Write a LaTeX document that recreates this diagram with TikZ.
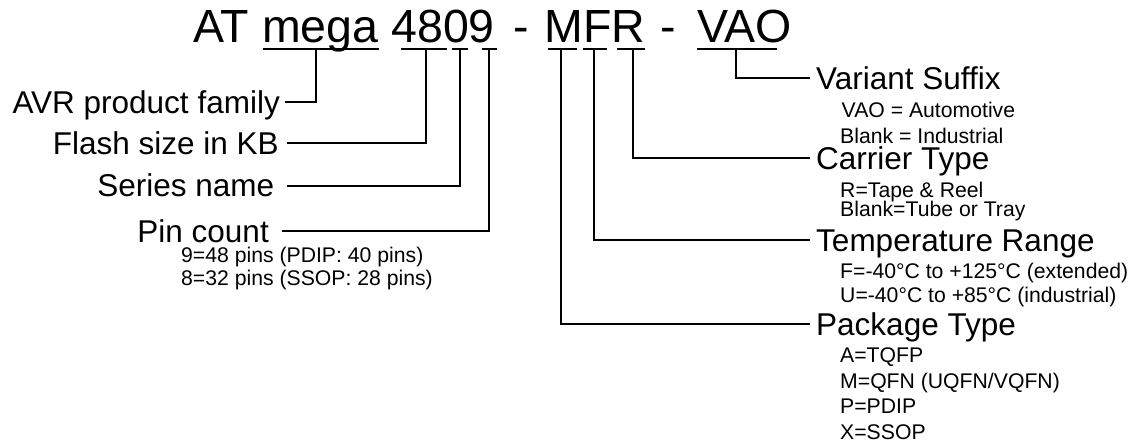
\documentclass[tikz,border=0pt]{standalone}
\usepackage{fontspec}
\setmainfont{Liberation Sans}
\begin{document}
\begin{tikzpicture}[x=1pt,y=-1pt,
  titletxt/.style={font=\fontsize{46.5}{50}\selectfont, inner sep=0pt, anchor=base west},
  lbl/.style={font=\fontsize{31.5}{36}\selectfont, inner ysep=0pt, text height=22.5pt, text depth=0pt},
  subtxt/.style={font=\fontsize{21.2}{24}\selectfont, inner sep=0pt, anchor=base west},
  conn/.style={line width=2pt, line join=miter},
  uline/.style={line width=2pt}]
\useasboundingbox (0,0) rectangle (1137,444);

% title
\node[titletxt] (t1) at (193,43) {AT mega 4809};
\node[titletxt] (h1) at (513,43) {-};
\node[titletxt] (t2) at (544.5,43) {MFR};
\node[titletxt] (h2) at (660,43) {-};
\node[titletxt] (t3) at (697,43) {VAO};

% underlines
\draw[uline] (263,49) -- (379,49);
\draw[uline] (401,49) -- (447,49);
\draw[uline] (452,49) -- (468,49);
\draw[uline] (482,49) -- (497,49);
\draw[uline] (548,49) -- (577,49);
\draw[uline] (583,49) -- (607,49);
\draw[uline] (617,49) -- (645,49);
\draw[uline] (697,49) -- (777,49);

\coordinate (cm) at (316,49);
\coordinate (c48) at (426,49);
\coordinate (c0) at (459.5,49);
\coordinate (c9) at (489,49);
\coordinate (cM) at (560.5,49);
\coordinate (cF) at (594,49);
\coordinate (cR) at (633,49);
\coordinate (cV) at (736,49);

% left labels
\node[lbl, anchor=east, inner xsep=5pt] (avr) at (285,102) {AVR product family};
\node[lbl, anchor=east, inner xsep=8pt] (flash) at (287,143) {Flash size in KB};
\node[lbl, anchor=east, inner xsep=12.5pt] (series) at (287,185.5) {Series name};
\node[lbl, anchor=east, inner xsep=13pt] (pin) at (282,231) {Pin count};
\node[subtxt] (p1) at (181,262) {9=48 pins (PDIP: 40 pins)};
\node[subtxt] (p2) at (181,285.5) {8=32 pins (SSOP: 28 pins)};

% right labels
\node[lbl, anchor=west, inner xsep=6pt] (var) at (810,78) {Variant Suffix};
\node[subtxt] (v1) at (841.5,117) {VAO = Automotive};
\node[subtxt] (v2) at (840,143) {Blank = Industrial};
\node[lbl, anchor=west, inner xsep=6pt] (car) at (810,158) {Carrier Type};
\node[subtxt] (r1) at (840,197) {R=Tape \& Reel};
\node[subtxt] (r2) at (840,216) {Blank=Tube or Tray};
\node[lbl, anchor=west, inner xsep=6pt] (temp) at (810,240) {Temperature Range};
\node[subtxt] (f1) at (840,278) {F=-40°C to +125°C (extended)};
\node[subtxt] (f2) at (840,302.5) {U=-40°C to +85°C (industrial)};
\node[lbl, anchor=west, inner xsep=6pt] (pkg) at (810,324) {Package Type};
\node[subtxt] (a1) at (840,362) {A=TQFP};
\node[subtxt] (a2) at (840,388) {M=QFN (UQFN/VQFN)};
\node[subtxt] (a3) at (840,413) {P=PDIP};
\node[subtxt] (a4) at (840,439) {X=SSOP};

% connectors
\draw[conn] (cm) |- (avr.east);
\draw[conn] (c48) |- (flash.east);
\draw[conn] (c0) |- (series.east);
\draw[conn] (c9) |- (pin.east);
\draw[conn] (cV) |- (var.west);
\draw[conn] (cR) |- (car.west);
\draw[conn] (cF) |- (temp.west);
\draw[conn] (cM) |- (pkg.west);
\end{tikzpicture}
\end{document}
